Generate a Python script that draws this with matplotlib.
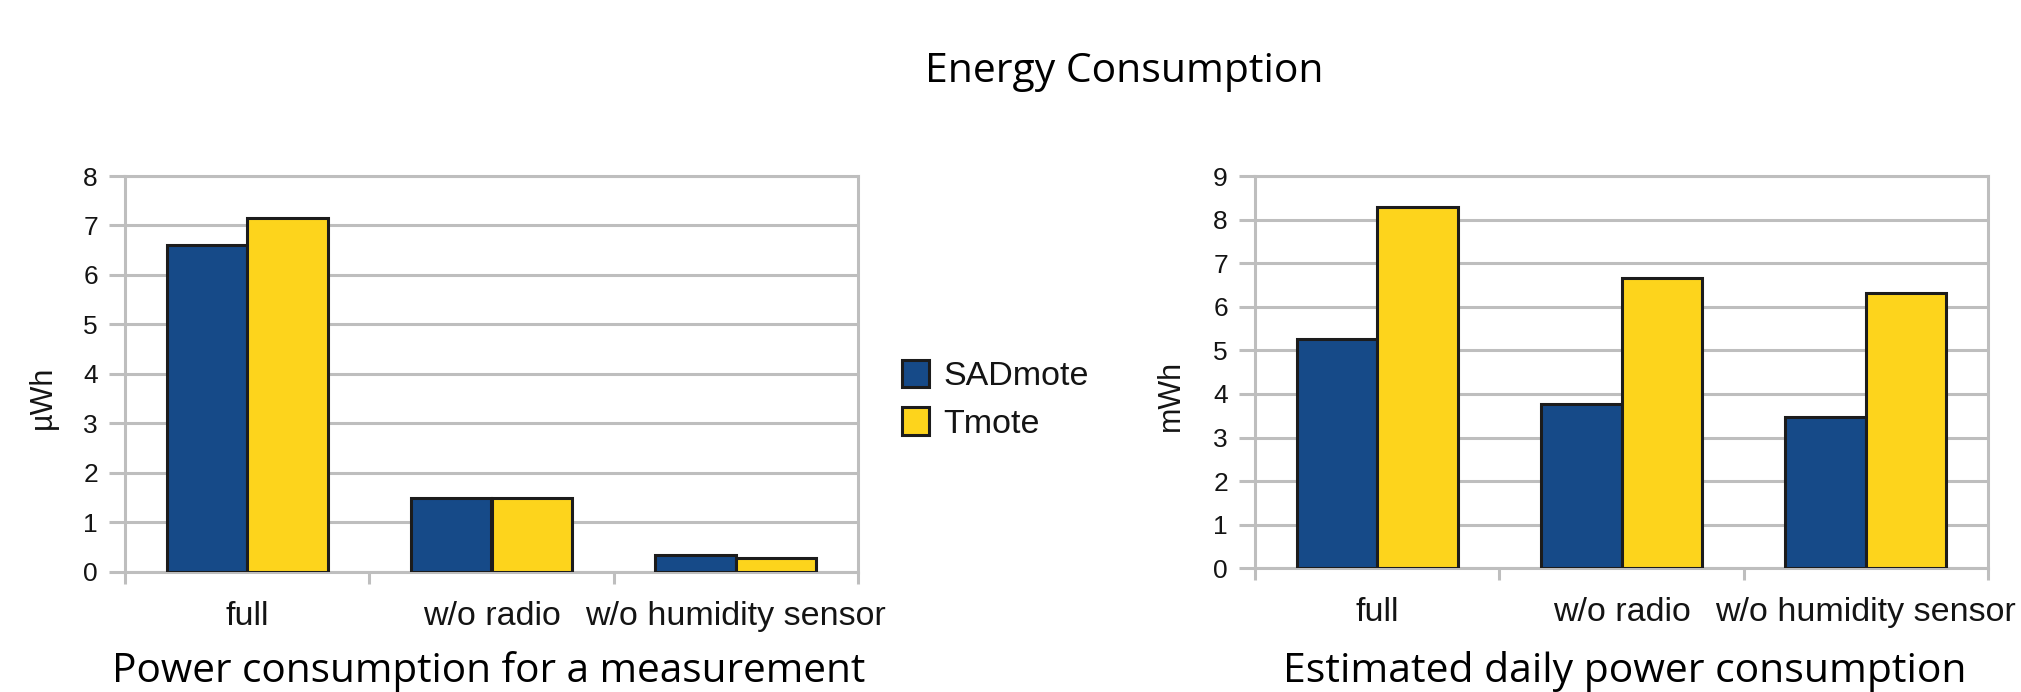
import matplotlib
matplotlib.use("Agg")
import matplotlib.pyplot as plt
import numpy as np

# ---- data ----
categories = ["full", "w/o radio", "w/o humidity sensor"]
series_names = ["SADmote", "Tmote"]

# energy per measurement (µWh)
measurement_sadmote = [6.60, 1.48, 0.33]
measurement_tmote = [7.15, 1.48, 0.27]

# estimated daily consumption (mWh)
daily_sadmote = [5.25, 3.77, 3.48]
daily_tmote = [8.29, 6.67, 6.31]

main_title = "Energy Consumption"
left_caption = "Power consumption for a measurement"
right_caption = "Estimated daily power consumption"
left_ylabel = "µWh"
right_ylabel = "mWh"

# ---- style ----
W, H = 2021, 692
DPI = 100
BLUE = "#164a88"
YELLOW = "#fdd41c"
EDGE = "#1c1c1c"
GRID = "#bebebe"
TEXT = "#141414"
LW = 2.2  # ~3 px
CHART_FONT = ["Liberation Sans", "DejaVu Sans"]
CAPTION_FONT = ["Open Sans", "DejaVu Sans"]

fig = plt.figure(figsize=(W / DPI, H / DPI), dpi=DPI)


def px_rect(x0, y0, x1, y1):
    """Axes rectangle from pixel corners (origin top-left)."""
    return [x0 / W, (H - y1) / H, (x1 - x0) / W, (y1 - y0) / H]


def bar_panel(ax, a, b, ymax, ylabel, label_xy):
    x = np.arange(len(categories))
    width = 0.33
    ax.bar(x - width / 2, a, width, color=BLUE, edgecolor=EDGE, linewidth=LW,
           label=series_names[0], zorder=3)
    ax.bar(x + width / 2, b, width, color=YELLOW, edgecolor=EDGE, linewidth=LW,
           label=series_names[1], zorder=3)
    ax.set_xlim(-0.5, len(categories) - 0.5)
    ax.set_ylim(0, ymax)
    ax.set_yticks(np.arange(0, ymax + 1, 1))
    ax.yaxis.grid(True, color=GRID, linewidth=LW, zorder=0)
    ax.set_axisbelow(True)
    for s in ax.spines.values():
        s.set_color(GRID)
        s.set_linewidth(LW)
    # category boundaries as major ticks, names on minor ticks
    ax.set_xticks(np.arange(-0.5, len(categories), 1.0))
    ax.set_xticklabels([])
    ax.set_xticks(x, minor=True)
    ax.set_xticklabels(categories, minor=True, fontsize=24.5,
                       family=CHART_FONT, color=TEXT)
    ax.tick_params(axis="x", which="major", direction="out", length=8.6,
                   width=LW, color=GRID)
    ax.tick_params(axis="x", which="minor", length=0, pad=21)
    ax.tick_params(axis="y", direction="out", length=11.5, width=LW,
                   color=GRID, pad=8, labelsize=19, labelcolor=TEXT)
    for t in ax.get_yticklabels():
        t.set_family(CHART_FONT)
    ax.set_ylabel(ylabel, fontsize=22, family=CHART_FONT, color=TEXT)
    ax.yaxis.set_label_coords(*label_xy)


ax1 = fig.add_axes(px_rect(125, 176, 858, 571.7))
bar_panel(ax1, measurement_sadmote, measurement_tmote, 8, left_ylabel,
          (-0.091, 0.44))

ax2 = fig.add_axes(px_rect(1255, 176, 1988, 568.3))
bar_panel(ax2, daily_sadmote, daily_tmote, 9, right_ylabel,
          (-0.094, 0.44))

# legend between the two panels
handles, labels = ax1.get_legend_handles_labels()
leg = fig.legend(handles, labels, loc="upper left",
                 bbox_to_anchor=(902 / W, (H - 360) / H),
                 frameon=False, borderpad=0, borderaxespad=0,
                 handlelength=0.8, handleheight=0.86, handletextpad=0.42,
                 labelspacing=0.44,
                 prop={"family": CHART_FONT, "size": 24.5})
for t in leg.get_texts():
    t.set_color(TEXT)

# titles
fig.text(1124 / W, (H - 82) / H, main_title, ha="center", va="baseline",
         fontsize=29.4, family=CAPTION_FONT, color="black")
fig.text(489 / W, (H - 682) / H, left_caption, ha="center", va="baseline",
         fontsize=29.2, family=CAPTION_FONT, color="black")
fig.text(1625 / W, (H - 682) / H, right_caption, ha="center", va="baseline",
         fontsize=29.4, family=CAPTION_FONT, color="black")

fig.savefig("out.png", dpi=DPI, facecolor="white")
